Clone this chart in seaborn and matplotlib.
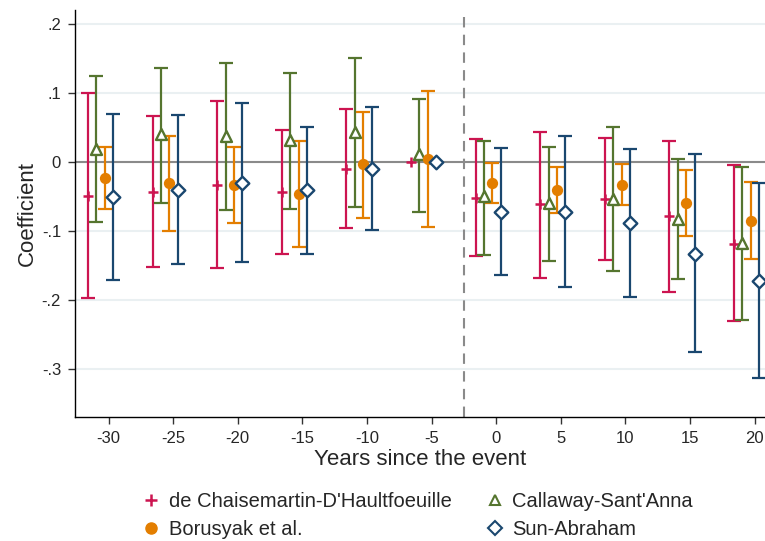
import numpy as np
import pandas as pd
import matplotlib
matplotlib.use("Agg")
import matplotlib.pyplot as plt
from matplotlib.lines import Line2D
import seaborn as sns

periods = [-30, -25, -20, -15, -10, -5, 0, 5, 10, 15, 20]

estimators = ["de Chaisemartin-D'Haultfoeuille", "Borusyak et al.",
              "Callaway-Sant'Anna", "Sun-Abraham"]

dcdh_coef = [-0.049, -0.043, -0.033, -0.044, -0.010, 0.0, -0.052, -0.061, -0.054, -0.079, -0.119]
dcdh_lo = [-0.197, -0.152, -0.154, -0.134, -0.096, np.nan, -0.137, -0.168, -0.142, -0.189, -0.231]
dcdh_hi = [0.100, 0.067, 0.088, 0.046, 0.077, np.nan, 0.034, 0.044, 0.035, 0.031, -0.005]

cs_coef = [0.019, 0.040, 0.038, 0.032, 0.044, 0.011, -0.050, -0.060, -0.053, -0.082, -0.117]
cs_lo = [-0.087, -0.059, -0.070, -0.068, -0.065, -0.072, -0.135, -0.144, -0.158, -0.170, -0.229]
cs_hi = [0.124, 0.137, 0.144, 0.129, 0.151, 0.092, 0.031, 0.021, 0.051, 0.004, -0.008]

bjs_coef = [-0.023, -0.031, -0.033, -0.046, -0.003, 0.005, -0.030, -0.041, -0.033, -0.059, -0.085]
bjs_lo = [-0.068, -0.100, -0.088, -0.123, -0.081, -0.094, -0.059, -0.074, -0.063, -0.108, -0.140]
bjs_hi = [0.022, 0.037, 0.021, 0.030, 0.072, 0.103, -0.002, -0.008, -0.003, -0.011, -0.029]

sa_coef = [-0.051, -0.040, -0.030, -0.041, -0.010, 0.0, -0.072, -0.073, -0.088, -0.133, -0.172]
sa_lo = [-0.171, -0.148, -0.145, -0.133, -0.099, np.nan, -0.164, -0.181, -0.196, -0.276, -0.313]
sa_hi = [0.069, 0.068, 0.085, 0.051, 0.080, np.nan, 0.020, 0.037, 0.019, 0.012, -0.031]

yticks = [0.2, 0.1, 0.0, -0.1, -0.2, -0.3]
ytick_labels = [".2", ".1", "0", "-.1", "-.2", "-.3"]

colors = {"de Chaisemartin-D'Haultfoeuille": "#CC1450",
          "Borusyak et al.": "#E37E00",
          "Callaway-Sant'Anna": "#55752F",
          "Sun-Abraham": "#1A476F"}
offsets = {"de Chaisemartin-D'Haultfoeuille": -1.6,
           "Callaway-Sant'Anna": -0.95,
           "Borusyak et al.": -0.3,
           "Sun-Abraham": 0.35}
markers = {"de Chaisemartin-D'Haultfoeuille": "+",
           "Borusyak et al.": "o",
           "Callaway-Sant'Anna": "^",
           "Sun-Abraham": "D"}

series = {
    "de Chaisemartin-D'Haultfoeuille": (dcdh_coef, dcdh_lo, dcdh_hi),
    "Borusyak et al.": (bjs_coef, bjs_lo, bjs_hi),
    "Callaway-Sant'Anna": (cs_coef, cs_lo, cs_hi),
    "Sun-Abraham": (sa_coef, sa_lo, sa_hi),
}

rows = []
for est, (c, lo, hi) in series.items():
    for p, cc, l, h in zip(periods, c, lo, hi):
        rows.append({"estimator": est, "period": p, "x": p + offsets[est],
                     "coef": cc, "lo": l, "hi": h})
df = pd.DataFrame(rows)

sns.set_theme(style="white")
plt.rcParams["font.family"] = ["Liberation Sans", "DejaVu Sans"]

fig = plt.figure(figsize=(7.65, 5.41), dpi=100)
ax = fig.add_axes([0.098, 0.229, 0.902, 0.752])

for yv in yticks:
    ax.axhline(yv, color="#EAF0F2", lw=1.5, zorder=0)
ax.axhline(0, color="#8A8A8A", lw=1.5, zorder=1)
ax.axvline(-2.5, color="#8A8A8A", lw=1.5, ls=(0, (5, 3.5)), zorder=1)

for est in ["de Chaisemartin-D'Haultfoeuille", "Callaway-Sant'Anna", "Borusyak et al.", "Sun-Abraham"]:
    d = df[df["estimator"] == est]
    col = colors[est]
    dd = d.dropna(subset=["lo", "hi"])
    ax.errorbar(dd["x"], dd["coef"], yerr=[dd["coef"] - dd["lo"], dd["hi"] - dd["coef"]],
                fmt="none", ecolor=col, elinewidth=1.6, capsize=5, capthick=1.6, zorder=2)
    if markers[est] == "+":
        sns.scatterplot(data=d, x="x", y="coef", marker="+", s=50, color=col,
                        linewidth=1.8, ax=ax, zorder=4, legend=False)
    elif markers[est] == "o":
        sns.scatterplot(data=d, x="x", y="coef", marker="o", s=66, color=col,
                        edgecolor=col, linewidth=0, ax=ax, zorder=4, legend=False)
    else:
        sns.scatterplot(data=d, x="x", y="coef", marker=markers[est],
                        s=62 if markers[est] == "^" else 48,
                        facecolor="white", edgecolor=col, linewidth=1.7, ax=ax,
                        zorder=4, legend=False)

ax.set_xlim(-32.6, 20.8)
ax.set_ylim(-0.37, 0.22)
ax.set_xticks(periods)
ax.set_xticklabels([str(p) for p in periods], fontsize=12)
ax.set_yticks(yticks)
ax.set_yticklabels(ytick_labels, fontsize=12)
ax.tick_params(axis="both", direction="out", length=5, width=1, color="#333333",
               bottom=True, left=True, pad=5)
for s in ["top", "right"]:
    ax.spines[s].set_visible(False)
for s in ["left", "bottom"]:
    ax.spines[s].set_color("black")
    ax.spines[s].set_linewidth(1.0)
ax.set_xlabel("Years since the event", fontsize=16, labelpad=2)
ax.set_ylabel("Coefficient", fontsize=16, labelpad=3)

handles = [
    Line2D([], [], ls="none", marker="+", ms=8, mew=1.8, color=colors["de Chaisemartin-D'Haultfoeuille"]),
    Line2D([], [], ls="none", marker="o", ms=8, color=colors["Borusyak et al."]),
    Line2D([], [], ls="none", marker="^", ms=7, mfc="white", mew=1.5, color=colors["Callaway-Sant'Anna"]),
    Line2D([], [], ls="none", marker="D", ms=7, mfc="white", mew=1.5, color=colors["Sun-Abraham"]),
]
labels = ["de Chaisemartin-D'Haultfoeuille", "Borusyak et al.",
          "Callaway-Sant'Anna", "Sun-Abraham"]
fig.legend(handles, labels, loc="center", bbox_to_anchor=(0.545, 0.047), ncol=2,
           frameon=False, fontsize=14.5, handlelength=1.0, handletextpad=0.37,
           columnspacing=1.65, labelspacing=0.45, borderpad=0.2)

fig.savefig("out.png", dpi=100)
